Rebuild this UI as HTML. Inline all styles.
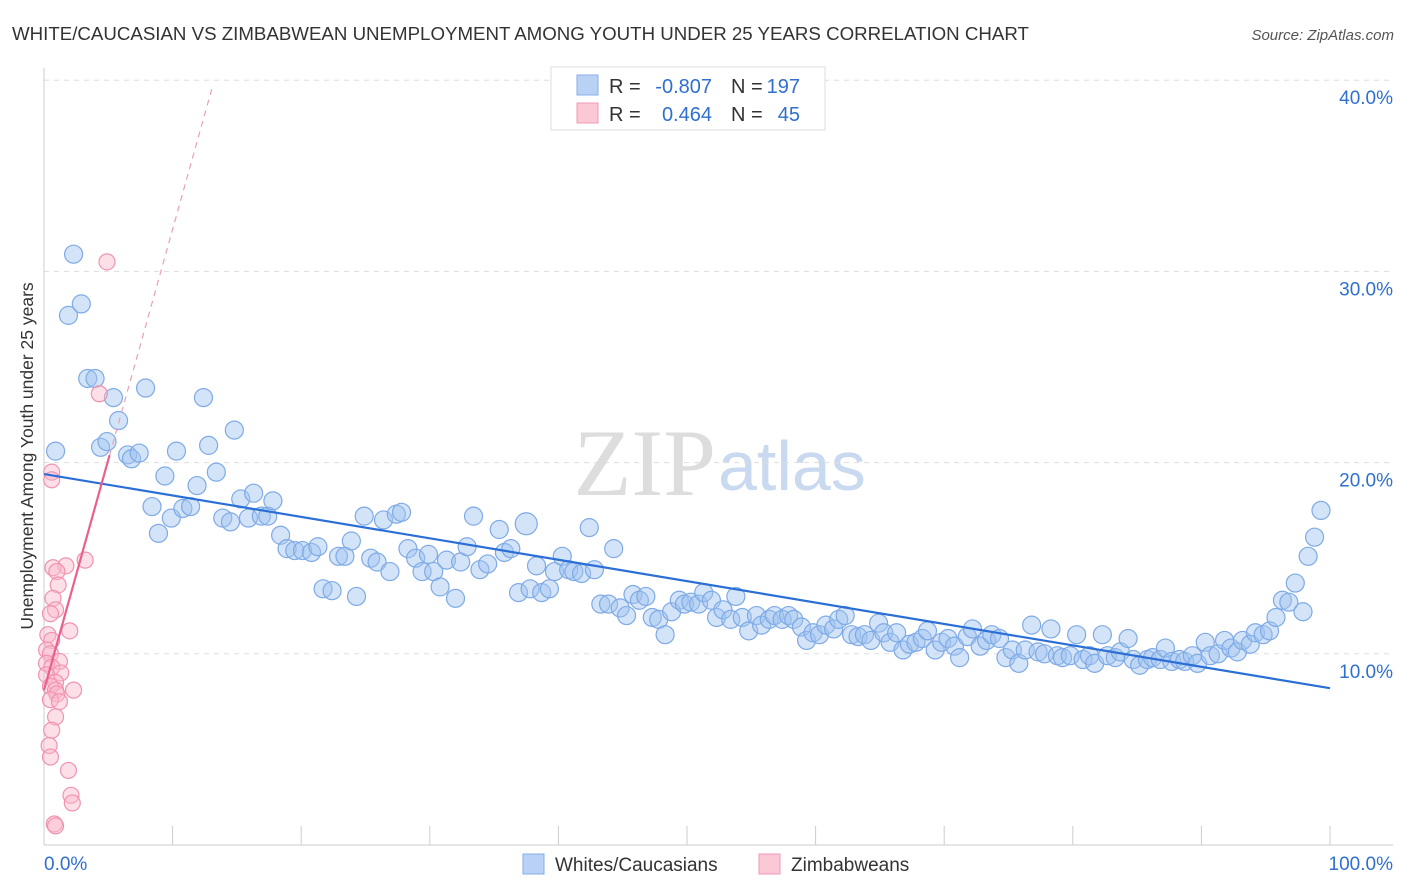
<!DOCTYPE html>
<html><head><meta charset="utf-8">
<style>
body{margin:0;background:#fff;font-family:"Liberation Sans",sans-serif;}
svg{display:block}
</style></head>
<body>
<svg id="chart" width="1406" height="892" xmlns="http://www.w3.org/2000/svg">
<text x="12" y="40" font-size="18.7" fill="#333">WHITE/CAUCASIAN VS ZIMBABWEAN UNEMPLOYMENT AMONG YOUTH UNDER 25 YEARS CORRELATION CHART</text>
<text x="1394" y="40" font-size="15" fill="#555" font-style="italic" text-anchor="end">Source: ZipAtlas.com</text>
<text x="716" y="495" font-size="95" fill="#ddd" text-anchor="end" font-family="Liberation Serif,serif">ZIP</text>
<text x="718" y="490" font-size="70" fill="#c9d9ef">atlas</text>
<g id="grid"></g>
<g id="marks"></g>
<text transform="translate(33,456) rotate(-90)" font-size="17.5" fill="#333" text-anchor="middle">Unemployment Among Youth under 25 years</text>
<g>
<rect x="551" y="67" width="274" height="63" fill="#fff" stroke="#ddd"/>
<rect x="577" y="75" width="21" height="20" fill="#b9d1f5" stroke="#86aee8"/>
<rect x="577" y="103" width="21" height="20" fill="#fbc8d6" stroke="#f29ab5"/>
<text x="609" y="93" font-size="20" fill="#333">R =</text>
<text x="712" y="93" font-size="20" fill="#2f6fd0" text-anchor="end">-0.807</text>
<text x="731" y="93" font-size="20" fill="#333">N =</text>
<text x="800" y="93" font-size="20" fill="#2f6fd0" text-anchor="end">197</text>
<text x="609" y="121" font-size="20" fill="#333">R =</text>
<text x="712" y="121" font-size="20" fill="#2f6fd0" text-anchor="end">0.464</text>
<text x="731" y="121" font-size="20" fill="#333">N =</text>
<text x="800" y="121" font-size="20" fill="#2f6fd0" text-anchor="end">45</text>
</g>
<g>
<rect x="523" y="854" width="21" height="20" fill="#b9d1f5" stroke="#86aee8"/>
<text x="555" y="871" font-size="19" fill="#333">Whites/Caucasians</text>
<rect x="759" y="854" width="21" height="20" fill="#fbc8d6" stroke="#f29ab5"/>
<text x="791" y="871" font-size="19" fill="#333">Zimbabweans</text>
</g>
</svg>
<script>
const yTicks=[10,20,30,40];
const yTickLabels=["10.0%","20.0%","30.0%","40.0%"];
const xTicks=[0,10,20,30,40,50,60,70,80,90,100];
const blueX=[2.3,1.9,2.9,3.4,3.97,5.4,5.8,0.9,4.4,4.9,6.5,6.8,7.4,7.9,12.4,12.8,14.8,10.3,9.4,11.9,13.4,8.4,8.9,9.9,10.8,11.4,13.9,14.5,15.3,16.3,15.9,16.9,17.4,17.8,18.4,18.9,19.5,20.1,20.8,21.3,21.7,22.4,22.9,23.4,23.9,24.3,24.9,25.4,25.9,26.4,26.9,27.4,27.8,28.3,28.9,29.4,29.9,30.3,30.8,31.3,32.0,32.4,32.9,33.4,33.9,34.5,35.4,35.8,36.3,36.9,37.5,37.8,38.3,38.7,39.3,39.7,40.3,40.8,41.2,41.8,42.4,42.8,43.3,43.9,44.3,44.8,45.3,45.8,46.3,46.8,47.3,47.8,48.3,48.8,49.4,49.8,50.3,50.9,51.3,51.9,52.3,52.8,53.4,53.8,54.3,54.8,55.4,55.8,56.4,56.8,57.4,57.9,58.3,58.9,59.3,59.8,60.3,60.8,61.4,61.8,62.3,62.8,63.3,63.8,64.3,64.9,65.3,65.8,66.3,66.8,67.3,67.8,68.3,68.7,69.3,69.8,70.3,70.8,71.2,71.8,72.2,72.8,73.3,73.7,74.3,74.8,75.3,75.8,76.3,76.8,77.3,77.8,78.3,78.8,79.2,79.8,80.3,80.8,81.3,81.7,82.3,82.7,83.3,83.7,84.3,84.7,85.2,85.8,86.2,86.8,87.2,87.7,88.3,88.7,89.3,89.7,90.3,90.7,91.3,91.8,92.3,92.8,93.2,93.8,94.2,94.8,95.3,95.8,96.3,96.8,97.3,97.9,98.3,98.8,99.3];
const blueY=[30.9,27.7,28.3,24.4,24.4,23.4,22.2,20.6,20.8,21.1,20.4,20.2,20.5,23.9,23.4,20.9,21.7,20.6,19.3,18.8,19.5,17.7,16.3,17.1,17.6,17.7,17.1,16.9,18.1,18.4,17.1,17.2,17.2,18.0,16.2,15.5,15.4,15.4,15.3,15.6,13.4,13.3,15.1,15.1,15.9,13.0,17.2,15.0,14.8,17.0,14.3,17.3,17.4,15.5,15.0,14.3,15.2,14.3,13.5,14.9,12.9,14.8,15.6,17.2,14.4,14.7,16.5,15.3,15.5,13.2,16.8,13.4,14.6,13.2,13.4,14.3,15.1,14.4,14.3,14.2,16.6,14.4,12.6,12.6,15.5,12.4,12.0,13.1,12.8,13.0,11.9,11.8,11.0,12.2,12.8,12.6,12.7,12.6,13.2,12.8,11.9,12.3,11.8,13.0,11.9,11.2,12.0,11.5,11.8,12.0,11.8,12.0,11.8,11.4,10.7,11.1,11.0,11.5,11.3,11.8,12.0,11.0,10.9,11.0,10.7,11.6,11.1,10.6,11.1,10.2,10.5,10.6,10.8,11.2,10.2,10.6,10.8,10.4,9.8,10.9,11.3,10.4,10.7,11.0,10.8,9.8,10.2,9.5,10.2,11.5,10.1,10.0,11.3,9.9,9.8,9.9,11.0,9.7,9.9,9.5,11.0,9.9,9.8,10.1,10.8,9.7,9.4,9.7,9.8,9.7,10.3,9.6,9.7,9.6,9.9,9.5,10.6,9.9,10.0,10.7,10.3,10.1,10.7,10.5,11.1,11.0,11.2,11.9,12.8,12.7,13.7,12.2,15.1,16.1,17.5];
const pinkX=[4.9,4.3,0.6,0.6,3.2,1.7,0.7,1.0,1.1,0.7,0.9,0.5,2.0,0.3,0.6,0.2,0.5,1.2,0.2,0.6,1.3,0.2,0.9,0.5,0.9,2.3,1.0,0.5,1.2,0.9,0.6,0.4,0.5,1.9,2.1,2.2,0.8,0.9];
const pinkY=[30.5,23.6,19.5,19.1,14.9,14.6,14.5,14.3,13.6,12.9,12.3,12.1,11.2,11.0,10.7,10.2,10.0,9.6,9.5,9.3,9.0,8.9,8.5,8.3,8.1,8.1,7.9,7.6,7.5,6.7,6.0,5.2,4.6,3.9,2.6,2.2,1.1,1.0];
const blueTrend=[19.4,8.2];
const pinkTrend=[8.1,2.41];
const NS="http://www.w3.org/2000/svg";
const X=v=>44+v*12.86, Y=v=>845-v*19.12;
function mk(t,a,p){const e=document.createElementNS(NS,t);for(const k in a)e.setAttribute(k,a[k]);p.appendChild(e);return e;}
const grid=document.getElementById('grid'),marks=document.getElementById('marks');
yTicks.forEach((t,i)=>{
 const l=mk('line',{x1:44,x2:1393,y1:Y(t),y2:Y(t),stroke:'#ddd','stroke-dasharray':'5,5'},grid);
 
 
 const tx=mk('text',{x:1393,y:Y(t)+24,'font-size':19,fill:'#2f6fd0','text-anchor':'end'},grid);
 tx.textContent=yTickLabels[i];
 
 
});
const ax=mk('line',{x1:44,x2:1393,y1:845,y2:845,stroke:'#ccc'},grid);


const ay=mk('line',{x1:44,x2:44,y1:68,y2:845,stroke:'#ccc'},grid);


xTicks.slice(1).forEach(t=>{
 const l=mk('line',{x1:X(t),x2:X(t),y1:826,y2:845,stroke:'#ccc'},grid);
 
 
});
const x0=mk('text',{x:44,y:870,'font-size':19,fill:'#2f6fd0'},grid);x0.textContent='0.0%';


const x1=mk('text',{x:1393,y:870,'font-size':19,fill:'#2f6fd0','text-anchor':'end'},grid);x1.textContent='100.0%';


blueX.forEach((x,i)=>{
 const c=mk('circle',{cx:X(x),cy:Y(blueY[i]),r:(i==70?11:9),fill:'rgba(160,195,240,0.45)',stroke:'#7eaae6','stroke-width':1.2},marks);
 
 
});
pinkX.forEach((x,i)=>{
 const c=mk('circle',{cx:X(x),cy:Y(pinkY[i]),r:8,fill:'rgba(250,185,205,0.45)',stroke:'#f093b0','stroke-width':1.2},marks);
 
 
});
const bt=mk('line',{x1:X(0),y1:Y(blueTrend[0]),x2:X(100),y2:Y(blueTrend[1]),stroke:'#2b6fd6','stroke-width':2.2},marks);


const pt=mk('line',{x1:X(0),y1:Y(pinkTrend[0]),x2:X(5.1),y2:Y(pinkTrend[0]+pinkTrend[1]*5.1),stroke:'#e8608c','stroke-width':2.2},marks);


const pd=mk('line',{x1:X(5.1),y1:Y(pinkTrend[0]+pinkTrend[1]*5.1),x2:X(13.1),y2:Y(pinkTrend[0]+pinkTrend[1]*13.1),stroke:'#eaa0b8','stroke-width':1.2,'stroke-dasharray':'6,5'},marks);


</script>
</body></html>
